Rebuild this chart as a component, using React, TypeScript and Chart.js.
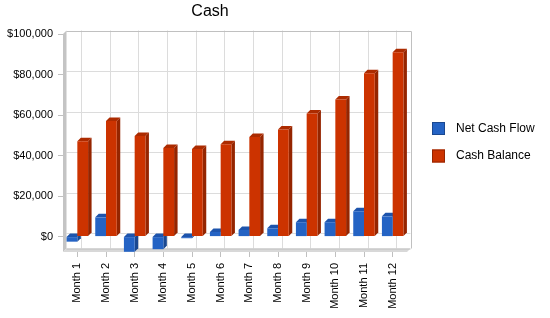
import React, { useEffect, useRef } from "react";
import { Chart, registerables } from "chart.js";

Chart.register(...registerables);

const titleText = "Cash";
const categories = ["Month 1", "Month 2", "Month 3", "Month 4", "Month 5", "Month 6", "Month 7", "Month 8", "Month 9", "Month 10", "Month 11", "Month 12"];
const netCashFlow = [-2500, 9500, -7500, -6200, -800, 2300, 3300, 4100, 7100, 7100, 12500, 10000];
const cashBalance = [47100, 57000, 49600, 43700, 43200, 45600, 49100, 52900, 60750, 67650, 80600, 91000];
const yTicks = [0, 20000, 40000, 60000, 80000, 100000];
const seriesNames = ["Net Cash Flow", "Cash Balance"];

const FONT = "'Liberation Sans', Arial, sans-serif";
const DEPTH = 3.5;
const front = ["#2463C4", "#CC3300"];
const side = ["#1A4890", "#952500"];
const topc = ["#1D54AC", "#AC2B00"];

const depthPlugin = {
  id: "depth3d",
  beforeDatasetsDraw(chart: any) {
    const ctx = chart.ctx;
    const { left, right, top, bottom } = chart.chartArea;
    const d = DEPTH;
    const ys = chart.scales.y;
    const xs = chart.scales.x;
    ctx.save();
    // back wall grid
    ctx.strokeStyle = "#dcdcdc";
    ctx.lineWidth = 1;
    yTicks.forEach((v) => {
      const py = Math.round(ys.getPixelForValue(v) - d) + 0.5;
      ctx.beginPath();
      ctx.moveTo(left + d, py);
      ctx.lineTo(right + d, py);
      ctx.stroke();
    });
    categories.forEach((_, i) => {
      const px = Math.round(xs.getPixelForValue(i) + d) + 0.5;
      ctx.beginPath();
      ctx.moveTo(px, top - d);
      ctx.lineTo(px, bottom - d);
      ctx.stroke();
    });
    // left wall
    ctx.fillStyle = "#c4c4c4";
    ctx.beginPath();
    ctx.moveTo(left, top);
    ctx.lineTo(left + d, top - d);
    ctx.lineTo(left + d, bottom - d);
    ctx.lineTo(left, bottom);
    ctx.closePath();
    ctx.fill();
    // floor
    ctx.fillStyle = "#d8d8d8";
    ctx.beginPath();
    ctx.moveTo(left, bottom);
    ctx.lineTo(left + d, bottom - d);
    ctx.lineTo(right + d, bottom - d);
    ctx.lineTo(right, bottom);
    ctx.closePath();
    ctx.fill();
    ctx.strokeStyle = "#c0c0c0";
    ctx.beginPath();
    ctx.moveTo(left + d, bottom - d + 0.5);
    ctx.lineTo(right + d, bottom - d + 0.5);
    ctx.stroke();
    // top and right border of back wall
    ctx.strokeStyle = "#c0c0c0";
    ctx.beginPath();
    ctx.moveTo(left + d, Math.round(top - d) + 0.5);
    ctx.lineTo(Math.round(right + d) + 0.5, Math.round(top - d) + 0.5);
    ctx.lineTo(Math.round(right + d) + 0.5, bottom - d);
    ctx.stroke();
    // side and top faces of bars
    chart.data.datasets.forEach((ds: any, di: number) => {
      const meta = chart.getDatasetMeta(di);
      meta.data.forEach((bar: any) => {
        const p = bar.getProps(["x", "y", "base", "width"], true);
        const bl = p.x - p.width / 2;
        const br = p.x + p.width / 2;
        const bt = Math.min(p.y, p.base);
        const bb = Math.max(p.y, p.base);
        ctx.fillStyle = side[di];
        ctx.beginPath();
        ctx.moveTo(br, bt);
        ctx.lineTo(br + d, bt - d);
        ctx.lineTo(br + d, bb - d);
        ctx.lineTo(br, bb);
        ctx.closePath();
        ctx.fill();
        ctx.fillStyle = topc[di];
        ctx.beginPath();
        ctx.moveTo(bl, bt);
        ctx.lineTo(bl + d, bt - d);
        ctx.lineTo(br + d, bt - d);
        ctx.lineTo(br, bt);
        ctx.closePath();
        ctx.fill();
      });
    });
    ctx.restore();
  },
  afterDraw(chart: any) {
    const ctx = chart.ctx;
    ctx.save();
    // title
    ctx.fillStyle = "#000";
    ctx.font = `16px ${FONT}`;
    ctx.textAlign = "center";
    ctx.textBaseline = "middle";
    ctx.fillText(titleText, 210, 12);
    // legend
    ctx.font = `12px ${FONT}`;
    ctx.textAlign = "left";
    chart.data.datasets.forEach((ds: any, i: number) => {
      const cy = 128 + i * 27.5;
      ctx.fillStyle = front[i];
      ctx.fillRect(432, cy - 6, 13, 13);
      ctx.strokeStyle = side[i];
      ctx.lineWidth = 1;
      ctx.strokeRect(432.5, cy - 5.5, 12, 12);
      ctx.fillStyle = "#000";
      ctx.fillText(ds.label, 456, cy + 0.5);
    });
    ctx.restore();
  },
};

export default function App() {
  const ref = useRef<HTMLCanvasElement>(null);
  useEffect(() => {
    if (!ref.current) return;
    const chart = new Chart(ref.current, {
      type: "bar",
      data: {
        labels: categories,
        datasets: [
          { label: seriesNames[0], data: netCashFlow, backgroundColor: front[0], borderWidth: 0 },
          { label: seriesNames[1], data: cashBalance, backgroundColor: front[1], borderWidth: 0 },
        ],
      },
      options: {
        responsive: false,
        animation: false,
        events: [],
        layout: { padding: { top: 34, right: 143, left: 0, bottom: 0 } },
        datasets: { bar: { categoryPercentage: 0.75, barPercentage: 1 } },
        plugins: { legend: { display: false }, title: { display: false }, tooltip: { enabled: false } },
        scales: {
          x: {
            offset: true,
            grid: { display: true, drawOnChartArea: false, drawTicks: true, tickLength: 5, color: "#c0c0c0", offset: false },
            border: { display: false },
            ticks: { minRotation: 90, maxRotation: 90, autoSkip: false, padding: 6, color: "#000", font: { family: FONT, size: 11 } },
            afterFit: (s: any) => { s.height = 66; },
          },
          y: {
            min: -7600,
            max: 100000,
            afterBuildTicks: (s: any) => { s.ticks = yTicks.map((v) => ({ value: v })); },
            grid: { display: true, drawOnChartArea: false, drawTicks: true, tickLength: 5, color: "#c0c0c0" },
            border: { display: false },
            ticks: {
              padding: 5,
              color: "#000",
              font: { family: FONT, size: 11 },
              callback: (v: any) => "$" + Number(v).toLocaleString("en-US"),
            },
            afterFit: (s: any) => { s.width = 63; },
          },
        },
      },
      plugins: [depthPlugin],
    });
    return () => chart.destroy();
  }, []);
  return (
    <div style={{ position: "absolute", left: 0, top: 0, width: 550, height: 318, background: "#fff" }}>
      <canvas ref={ref} width={550} height={318} style={{ display: "block" }} />
    </div>
  );
}
